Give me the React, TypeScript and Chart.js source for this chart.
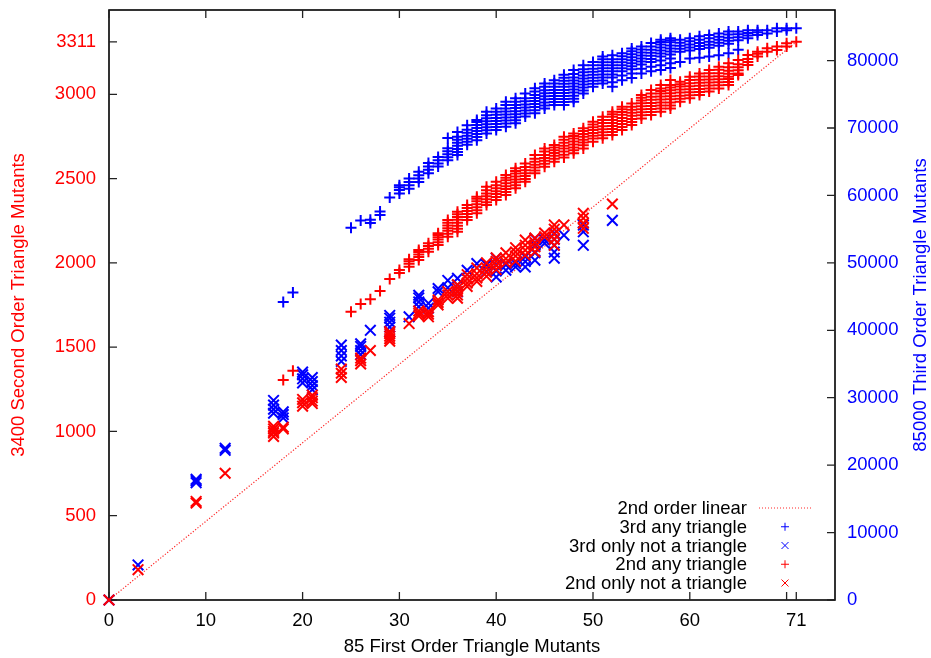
import React, { useEffect, useRef } from 'react';
import { Chart, registerables } from 'chart.js';

Chart.register(...registerables);

const RED = '#ff0000';
const BLUE = '#0000ff';
const FONT = '"Liberation Sans", Arial, Helvetica, sans-serif';
const FS = 18.5;

// Axis ranges and ticks
const xRange = [0, 75];
const yRange = [0, 3500];
const y2Range = [0, 87500];
const xTicks = [0, 10, 20, 30, 40, 50, 60, 70, 71];
const xHiddenLabels = [70];
const yTicks = [0, 500, 1000, 1500, 2000, 2500, 3000, 3311];
const y2Ticks = [0, 10000, 20000, 30000, 40000, 50000, 60000, 70000, 80000];

const xTitle = '85 First Order Triangle Mutants';
const yTitle = '3400 Second Order Triangle Mutants';
const y2Title = '85000 Third Order Triangle Mutants';

const seriesLabels = [
  '2nd order linear',
  '3rd any triangle',
  '3rd only not a triangle',
  '2nd any triangle',
  '2nd only not a triangle',
];

// 2nd order linear reference line: [x, y]
const linearLine: [number, number][] = [
  [0, 0],
  [71, 3311],
];

// 3rd any triangle (right axis): [x, values]
const thirdAny: [number, number[]][] = [
  [18, [44200]],
  [19, [45600]],
  [25, [55200]],
  [26, [56300]],
  [27, [55900, 56400]],
  [28, [57100, 57600]],
  [29, [59700]],
  [30, [60300, 60800, 61200, 61500]],
  [31, [61000, 61500, 62000, 62500]],
  [32, [62000, 62500, 63000, 63500]],
  [33, [63300, 63800, 64300, 64800]],
  [34, [64300, 64750, 65200, 65700]],
  [35, [65200, 65650, 66100, 66550, 67000, 68500]],
  [36, [66000, 66450, 66900, 67350, 67800, 68250, 68700, 69400]],
  [37, [67500, 67950, 68400, 68850, 69300, 69750, 70400]],
  [38, [68200, 68650, 69100, 69550, 70000, 70450, 70900, 71200]],
  [39, [69200, 69650, 70100, 70550, 71000, 71450, 71900, 72400]],
  [40, [69700, 70150, 70600, 71050, 71500, 71950, 72400, 72900]],
  [41, [70200, 70650, 71100, 71550, 72000, 72450, 72900, 73400, 73900]],
  [42, [70700, 71150, 71600, 72050, 72500, 72950, 73400, 73900, 74400]],
  [43, [71700, 72150, 72600, 73050, 73500, 73950, 74400, 75100]],
  [44, [72200, 72650, 73100, 73550, 74000, 74450, 74900, 75400, 75900]],
  [45, [72900, 73350, 73800, 74250, 74700, 75150, 75600, 76100, 76600]],
  [46, [73400, 73850, 74300, 74750, 75200, 75650, 76100, 76600, 77100]],
  [47, [73400, 73850, 74300, 74750, 75200, 75650, 76100, 76550, 77000, 77450, 77900]],
  [48, [73900, 74350, 74800, 75250, 75700, 76150, 76600, 77050, 77500, 78000, 78600]],
  [49, [75100, 75550, 76000, 76450, 76900, 77350, 77800, 78250, 78700, 79300]],
  [50, [76100, 76550, 77000, 77450, 77900, 78350, 78800, 79300, 79800]],
  [51, [76600, 77050, 77500, 77950, 78400, 78850, 79300, 79750, 80200, 80600]],
  [52, [76100, 76800, 77500, 77950, 78400, 78850, 79300, 79750, 80200, 80800]],
  [53, [77100, 77800, 78400, 78850, 79300, 79750, 80200, 80650, 81100]],
  [54, [77400, 78100, 78700, 79150, 79600, 80050, 80500, 80950, 81400, 81800]],
  [55, [78100, 78800, 79400, 79850, 80300, 80750, 81200, 81650, 82100]],
  [56, [78400, 79100, 79800, 80250, 80700, 81150, 81600, 82100, 82600]],
  [57, [78600, 79300, 80000, 80600, 81050, 81500, 81950, 82400, 82750, 83100]],
  [58, [78900, 79600, 80300, 80900, 81350, 81800, 82250, 82700, 83000, 83300]],
  [59, [79800, 81300, 81750, 82200, 82650, 83100]],
  [60, [80300, 81500, 81950, 82400, 82850, 83300]],
  [61, [80400, 81700, 82150, 82600, 83100, 83600]],
  [62, [80600, 81900, 82350, 82800, 83300, 83800]],
  [63, [80800, 82200, 82650, 83100, 83550, 84000]],
  [64, [81100, 82500, 82950, 83400, 83850, 84300]],
  [65, [81600, 83000, 83450, 83900, 84300]],
  [66, [83300, 83700, 84100, 84500]],
  [67, [83800, 84200, 84500]],
  [68, [84000, 84500]],
  [69, [84300, 84800]],
  [70, [84500, 84800]],
  [71, [84800]],
];

// 3rd only not a triangle (right axis)
const thirdNot: [number, number[]][] = [
  [0, [0]],
  [3, [5200]],
  [9, [17400, 17700, 17900]],
  [12, [22200, 22500]],
  [17, [27700, 28300, 28900, 29600]],
  [18, [27000, 27500, 27900]],
  [20, [32200, 32800, 33400, 33800]],
  [21, [31200, 31800, 32400, 33000]],
  [24, [35400, 36200, 37000, 37800]],
  [26, [36400, 37000, 37600, 38000]],
  [27, [40000]],
  [29, [39800, 40500, 41200, 41800, 42200]],
  [31, [42000]],
  [32, [43500, 44200, 44800, 45200]],
  [33, [43300, 44000]],
  [34, [45700, 46200]],
  [35, [46300, 47400]],
  [36, [45700, 46700, 47700]],
  [37, [48900]],
  [38, [49900]],
  [39, [48700, 49700]],
  [40, [47900, 48800, 49700, 50700]],
  [41, [48900, 49700]],
  [42, [49400, 49900]],
  [43, [49400, 50200, 50900]],
  [44, [50400, 51500, 52600, 53600]],
  [45, [52900, 53400]],
  [46, [50700, 51600, 52600, 53500, 54400]],
  [47, [54100]],
  [49, [52600, 54600, 55600]],
  [52, [56300]],
];

// 2nd any triangle (left axis)
const secondAny: [number, number[]][] = [
  [18, [1305]],
  [19, [1360]],
  [25, [1710]],
  [26, [1756]],
  [27, [1784]],
  [28, [1833]],
  [29, [1904]],
  [30, [1940, 1958]],
  [31, [1977, 1995, 2010, 2021]],
  [32, [2017, 2035, 2050, 2065, 2076]],
  [33, [2066, 2083, 2100, 2116]],
  [34, [2106, 2122, 2138, 2152, 2165, 2175]],
  [35, [2155, 2172, 2190, 2205, 2222, 2238, 2254]],
  [36, [2185, 2203, 2220, 2238, 2255, 2272, 2288, 2303]],
  [37, [2254, 2272, 2290, 2308, 2326, 2343]],
  [38, [2294, 2312, 2330, 2348, 2365, 2380, 2392]],
  [39, [2343, 2360, 2378, 2395, 2412, 2430, 2452]],
  [40, [2373, 2390, 2408, 2425, 2442, 2460, 2481]],
  [41, [2402, 2420, 2438, 2455, 2472, 2490, 2505, 2521]],
  [42, [2442, 2460, 2478, 2495, 2512, 2530, 2545, 2561]],
  [43, [2481, 2498, 2515, 2532, 2550, 2568, 2590]],
  [44, [2531, 2548, 2565, 2582, 2600, 2618, 2640]],
  [45, [2570, 2588, 2605, 2622, 2640, 2660, 2679]],
  [46, [2600, 2618, 2635, 2652, 2668, 2685, 2699]],
  [47, [2625, 2642, 2660, 2678, 2695, 2712, 2730, 2748]],
  [48, [2650, 2668, 2685, 2702, 2720, 2737, 2752, 2768]],
  [49, [2679, 2697, 2714, 2731, 2748, 2765, 2782, 2798]],
  [50, [2719, 2737, 2754, 2771, 2788, 2805, 2821, 2837]],
  [51, [2739, 2757, 2775, 2793, 2811, 2829, 2848, 2867]],
  [52, [2758, 2776, 2794, 2812, 2830, 2848, 2866, 2882, 2897]],
  [53, [2788, 2806, 2824, 2842, 2860, 2878, 2895, 2911, 2926]],
  [54, [2818, 2836, 2854, 2872, 2890, 2908, 2926, 2946]],
  [55, [2857, 2875, 2893, 2911, 2929, 2947, 2963, 2980, 2996]],
  [56, [2877, 2895, 2913, 2931, 2949, 2967, 2985, 3005, 3025]],
  [57, [2897, 2915, 2933, 2951, 2969, 2987, 3005, 3020, 3035, 3055]],
  [58, [2916, 2934, 2952, 2970, 2988, 3006, 3024, 3040, 3055, 3085]],
  [59, [2956, 2974, 2992, 3010, 3028, 3046, 3060, 3075]],
  [60, [2976, 2994, 3012, 3030, 3048, 3066, 3085, 3104]],
  [61, [2996, 3014, 3032, 3050, 3068, 3086, 3105, 3124]],
  [62, [3016, 3034, 3052, 3070, 3088, 3106, 3125, 3144]],
  [63, [3035, 3053, 3071, 3089, 3107, 3125, 3145, 3164]],
  [64, [3055, 3073, 3091, 3104, 3122, 3140, 3160, 3184]],
  [65, [3114, 3124, 3142, 3160, 3178, 3203]],
  [66, [3174, 3192, 3210, 3233]],
  [67, [3224, 3240, 3253]],
  [68, [3253, 3273]],
  [69, [3263, 3283]],
  [70, [3283, 3303]],
  [71, [3311]],
];

// 2nd only not a triangle (left axis)
const secondNot: [number, number[]][] = [
  [0, [0]],
  [3, [180]],
  [9, [575, 585]],
  [12, [752]],
  [17, [970, 990, 1000, 1015, 1030]],
  [18, [1015, 1025]],
  [20, [1150, 1170, 1190]],
  [21, [1165, 1180, 1200, 1215]],
  [24, [1320, 1345, 1370]],
  [26, [1400, 1420, 1435]],
  [27, [1480]],
  [29, [1535, 1550, 1565, 1580, 1592]],
  [31, [1640]],
  [32, [1685, 1700, 1715]],
  [33, [1680, 1695, 1710]],
  [34, [1750, 1765, 1780]],
  [35, [1790, 1810, 1830]],
  [36, [1790, 1810, 1830, 1850, 1870]],
  [37, [1860, 1880, 1905, 1930]],
  [38, [1890, 1910, 1935, 1970]],
  [39, [1920, 1945, 1970, 2000]],
  [40, [1960, 1985, 2010, 2030]],
  [41, [2000, 2025, 2060]],
  [42, [2010, 2040, 2065, 2090]],
  [43, [2045, 2075, 2105, 2135]],
  [44, [2065, 2095, 2120, 2147]],
  [45, [2155, 2177]],
  [46, [2105, 2140, 2170, 2200, 2225]],
  [47, [2225]],
  [49, [2205, 2235, 2265, 2294]],
  [52, [2349]],
];

function toPoints(cols: [number, number[]][]) {
  const pts: { x: number; y: number }[] = [];
  for (const [x, ys] of cols) for (const y of ys) pts.push({ x, y });
  return pts;
}

const frameTicksPlugin = {
  id: 'frameTicks',
  beforeDatasetsDraw(chart: any) {
    const { ctx, chartArea: a, scales } = chart;
    ctx.save();
    ctx.strokeStyle = '#000';
    ctx.lineWidth = 1.6;
    ctx.strokeRect(a.left, a.top, a.right - a.left, a.bottom - a.top);
    ctx.lineWidth = 1.3;
    ctx.strokeStyle = '#222';
    const len = 8;
    ctx.beginPath();
    for (const t of scales.x.ticks) {
      const px = scales.x.getPixelForValue(t.value);
      ctx.moveTo(px, a.bottom);
      ctx.lineTo(px, a.bottom - len);
      ctx.moveTo(px, a.top);
      ctx.lineTo(px, a.top + len);
    }
    for (const t of scales.y.ticks) {
      const py = scales.y.getPixelForValue(t.value);
      ctx.moveTo(a.left, py);
      ctx.lineTo(a.left + len, py);
    }
    for (const t of scales.y2.ticks) {
      const py = scales.y2.getPixelForValue(t.value);
      ctx.moveTo(a.right, py);
      ctx.lineTo(a.right - len, py);
    }
    ctx.stroke();
    ctx.restore();
  },
};

const annotationsPlugin = {
  id: 'annotations',
  afterDraw(chart: any, _args: any, opts: any) {
    const { ctx, chartArea: a } = chart;
    ctx.save();
    // right axis title, reading bottom to top
    ctx.font = `${FS}px ${FONT}`;
    ctx.fillStyle = BLUE;
    ctx.textAlign = 'center';
    ctx.textBaseline = 'middle';
    ctx.translate(chart.width - 10, (a.top + a.bottom) / 2);
    ctx.rotate(-Math.PI / 2);
    ctx.fillText(opts.rightTitle, 0, 0);
    ctx.restore();

    // legend, bottom right inside plot
    ctx.save();
    ctx.font = `${FS}px ${FONT}`;
    ctx.textAlign = 'right';
    ctx.textBaseline = 'middle';
    const ds = chart.data.datasets;
    const n = ds.length;
    const rowH = 18.75;
    ds.forEach((d: any, i: number) => {
      const y = a.bottom - 17 - (n - 1 - i) * rowH;
      ctx.fillStyle = '#000';
      ctx.fillText(d.label, a.right - 88, y + 1);
      const cx = a.right - 50;
      ctx.strokeStyle = d.borderColor;
      ctx.lineWidth = 1;
      ctx.beginPath();
      if (d.showLine) {
        ctx.setLineDash([1, 2]);
        ctx.moveTo(a.right - 76, y);
        ctx.lineTo(a.right - 24, y);
      } else if (d.pointStyle === 'cross') {
        ctx.moveTo(cx - 4, y);
        ctx.lineTo(cx + 4, y);
        ctx.moveTo(cx, y - 4);
        ctx.lineTo(cx, y + 4);
      } else {
        ctx.moveTo(cx - 3.5, y - 3.5);
        ctx.lineTo(cx + 3.5, y + 3.5);
        ctx.moveTo(cx - 3.5, y + 3.5);
        ctx.lineTo(cx + 3.5, y - 3.5);
      }
      ctx.stroke();
      ctx.setLineDash([]);
    });
    ctx.restore();
  },
};

export default function App() {
  const ref = useRef<HTMLCanvasElement | null>(null);

  useEffect(() => {
    if (!ref.current) return;
    Chart.defaults.font.family = FONT;
    const markerCommon = {
      showLine: false,
      clip: false as any,
      pointBorderWidth: 2,
      borderWidth: 2,
    };
    const chart = new Chart(ref.current, {
      type: 'scatter',
      data: {
        datasets: [
          {
            label: seriesLabels[0],
            data: linearLine.map(([x, y]) => ({ x, y })),
            yAxisID: 'y',
            showLine: true,
            borderColor: 'rgba(255,0,0,0.85)',
            borderWidth: 1.2,
            borderDash: [1.2, 1.8],
            pointRadius: 0,
            clip: false as any,
            order: 5,
          },
          {
            ...markerCommon,
            label: seriesLabels[1],
            data: toPoints(thirdAny),
            yAxisID: 'y2',
            pointStyle: 'cross',
            pointRadius: 5.5,
            borderColor: BLUE,
            pointBorderColor: BLUE,
            order: 4,
          },
          {
            ...markerCommon,
            label: seriesLabels[2],
            data: toPoints(thirdNot),
            yAxisID: 'y2',
            pointStyle: 'crossRot',
            pointRadius: 7.5,
            borderColor: BLUE,
            pointBorderColor: BLUE,
            order: 3,
          },
          {
            ...markerCommon,
            label: seriesLabels[3],
            data: toPoints(secondAny),
            yAxisID: 'y',
            pointStyle: 'cross',
            pointRadius: 5.5,
            borderColor: RED,
            pointBorderColor: RED,
            order: 2,
          },
          {
            ...markerCommon,
            label: seriesLabels[4],
            data: toPoints(secondNot),
            yAxisID: 'y',
            pointStyle: 'crossRot',
            pointRadius: 7.5,
            borderColor: RED,
            pointBorderColor: RED,
            order: 1,
          },
        ] as any,
      },
      options: {
        animation: false,
        responsive: false,
        events: [],
        layout: { padding: { top: 10, left: 0, right: 0, bottom: 0 } },
        plugins: {
          legend: { display: false },
          tooltip: { enabled: false },
          annotations: { rightTitle: y2Title },
        } as any,
        scales: {
          x: {
            type: 'linear',
            position: 'bottom',
            min: xRange[0],
            max: xRange[1],
            afterBuildTicks: (s: any) => {
              s.ticks = xTicks.map((v) => ({ value: v }));
            },
            afterFit: (s: any) => {
              s.height = 58;
              s.paddingLeft = 0;
              s.paddingRight = 0;
            },
            grid: { display: false, drawTicks: false },
            border: { display: false },
            ticks: {
              autoSkip: false,
              maxRotation: 0,
              padding: 10,
              color: '#000',
              font: { size: FS },
              callback: (v: any) => (xHiddenLabels.includes(v) ? '' : String(v)),
            },
            title: {
              display: true,
              text: xTitle,
              color: '#000',
              font: { size: FS },
              padding: { top: 0, bottom: 0 },
            },
          },
          y: {
            type: 'linear',
            position: 'left',
            min: yRange[0],
            max: yRange[1],
            afterBuildTicks: (s: any) => {
              s.ticks = yTicks.map((v) => ({ value: v }));
            },
            afterFit: (s: any) => {
              s.width = 109;
              s.paddingTop = 0;
              s.paddingBottom = 0;
            },
            grid: { display: false, drawTicks: false },
            border: { display: false },
            ticks: {
              autoSkip: false,
              padding: 13,
              color: RED,
              font: { size: FS },
              callback: (v: any) => String(v),
            },
            title: {
              display: true,
              text: yTitle,
              color: RED,
              font: { size: FS },
              padding: { top: 8, bottom: 0 },
            },
          },
          y2: {
            type: 'linear',
            position: 'right',
            min: y2Range[0],
            max: y2Range[1],
            afterBuildTicks: (s: any) => {
              s.ticks = y2Ticks.map((v) => ({ value: v }));
            },
            afterFit: (s: any) => {
              s.width = 96;
              s.paddingTop = 0;
              s.paddingBottom = 0;
            },
            grid: { display: false, drawTicks: false, drawOnChartArea: false },
            border: { display: false },
            ticks: {
              autoSkip: false,
              padding: 12,
              color: BLUE,
              font: { size: FS },
              callback: (v: any) => String(v),
            },
          },
        } as any,
      },
      plugins: [frameTicksPlugin, annotationsPlugin],
    });
    return () => chart.destroy();
  }, []);

  return (
    <div style={{ position: 'absolute', left: 0, top: 0, width: 931, height: 658 }}>
      <canvas ref={ref} width={931} height={658} style={{ display: 'block' }} />
    </div>
  );
}
